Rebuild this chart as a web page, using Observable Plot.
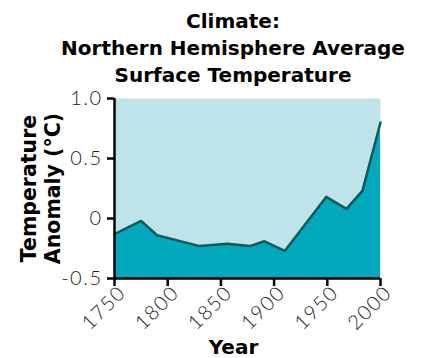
<!DOCTYPE html>
<html>
<head>
<meta charset="utf-8">
<script src="https://cdn.jsdelivr.net/npm/d3@7"></script>
<script src="https://cdn.jsdelivr.net/npm/@observablehq/plot@0.6"></script>
<style>
  html, body { margin: 0; padding: 0; background: #fff; }
  #title {
    width: 424px; height: 78px; box-sizing: border-box;
    padding-left: 42px; padding-top: 8px;
    text-align: center; font-family: "DejaVu Sans", sans-serif;
    font-weight: 700; font-size: 20px; line-height: 27px; color: #000;
  }
  svg [aria-label="x-axis"] line, svg [aria-label="y-axis"] line,
  svg [aria-label="x-axis tick"] path, svg [aria-label="y-axis tick"] path,
  svg [aria-label="x-axis tick"], svg [aria-label="y-axis tick"] { stroke-width: 2.5px; stroke: #000; }
  svg [aria-label="x-axis tick label"], svg [aria-label="y-axis tick label"],
  svg [aria-label="x-axis"] text, svg [aria-label="y-axis"] text { letter-spacing: 1.5px; }
  svg [aria-label="x-axis tick label"] { translate: 8px 0px; }
</style>
</head>
<body>
<div id="title">Climate:<br>Northern Hemisphere Average<br>Surface Temperature</div>
<div id="chart"></div>
<script>
const years = [1750, 1775, 1790, 1830, 1856, 1877, 1891, 1910, 1949, 1968, 1983, 2000];
const anomalies = [-0.13, -0.02, -0.14, -0.23, -0.21, -0.23, -0.19, -0.27, 0.18, 0.08, 0.23, 0.80];
const xTicks = [1750, 1800, 1850, 1900, 1950, 2000];
const yTicks = [-0.5, 0, 0.5, 1.0];
const yTickLabels = ["-0.5", "0", "0.5", "1.0"];

const data = years.map((y, i) => ({year: y, value: anomalies[i]}));

const chart = Plot.plot({
  width: 424,
  height: 280,
  marginTop: 20,
  marginBottom: 80,
  marginLeft: 114,
  marginRight: 44,
  style: {fontFamily: "Lato, sans-serif", fontSize: "20px", fontWeight: 300, color: "#222", background: "transparent", overflow: "visible"},
  x: {domain: [1750, 2000], ticks: xTicks, tickFormat: d => String(d), tickRotate: -45, tickSize: 8, tickPadding: 3, label: null},
  y: {domain: [-0.5, 1.0], ticks: yTicks, tickFormat: d => yTickLabels[yTicks.indexOf(d)], tickSize: 7, tickPadding: 5, label: null},
  marks: [
    Plot.frame({fill: "#bee3e9", stroke: null}),
    Plot.areaY(data, {x: "year", y1: -0.5, y2: "value", fill: "#02a9bd"}),
    Plot.lineY(data, {x: "year", y: "value", stroke: "#0c5a5c", strokeWidth: 2.5}),
    Plot.ruleX([1750], {stroke: "#000", strokeWidth: 2.5}),
    Plot.ruleY([-0.5], {stroke: "#000", strokeWidth: 2.5}),
    Plot.text(["Temperature\nAnomaly (°C)"], {frameAnchor: "left", rotate: -90, dx: -74, textAnchor: "middle", lineAnchor: "middle", lineHeight: 1.15, fontFamily: "DejaVu Sans", fontSize: 20.5, fontWeight: 700, fill: "#000"}),
    Plot.text(["Year"], {frameAnchor: "bottom", dx: -14, dy: 69, textAnchor: "middle", lineAnchor: "middle", fontFamily: "DejaVu Sans", fontSize: 20, fontWeight: 700, fill: "#000"})
  ]
});
document.getElementById("chart").appendChild(chart);
</script>
</body>
</html>
